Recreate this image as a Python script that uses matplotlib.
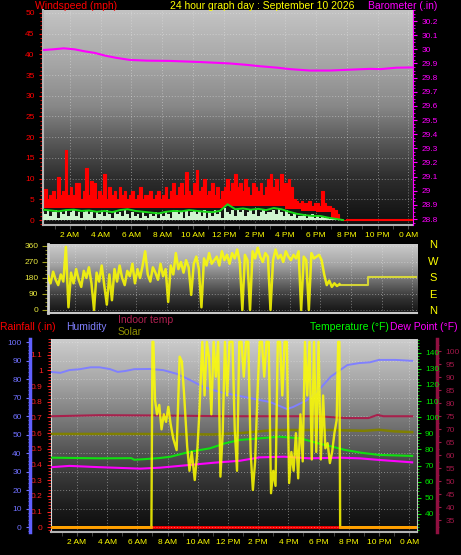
import numpy as np
import matplotlib
matplotlib.use('Agg')
from matplotlib import pyplot as plt
from matplotlib.colors import LinearSegmentedColormap
from matplotlib.ticker import MultipleLocator, FuncFormatter

plt.rcParams['font.family'] = ['Liberation Sans', 'DejaVu Sans']

# ---------------- data ----------------
title = '24 hour graph day : September 10 2026'
hour_ticks = [2, 4, 6, 8, 10, 12, 14, 16, 18, 20, 22, 24]
hour_labels = ['2 AM', '4 AM', '6 AM', '8 AM', '10 AM', '12 PM',
               '2 PM', '4 PM', '6 PM', '8 PM', '10 PM', '0 AM']

# wind gust (mph), 10 minute samples from 00:15
wind_gust = [
    6, 7.5, 5, 6, 7,
    5, 10.5, 6, 7, 17, 6,
    8, 6, 9, 9, 5, 7,
    12.5, 6, 9.5, 9, 5, 7,
    6, 11, 5, 8, 6, 7,
    5, 8, 6, 7, 5, 6,
    7, 5, 6, 8, 5, 6,
    6, 7, 5, 6, 7, 5,
    6, 8, 5, 7, 9, 6,
    8, 9, 6, 11.5, 7, 6,
    9, 12, 7, 8, 10, 6,
    7, 9, 6, 8, 5, 7,
    8, 10, 7, 9, 11, 8,
    9, 7, 10, 8, 6, 9,
    8, 7, 9, 6, 8, 10,
    11, 8, 10, 7, 11, 9,
    9, 10, 8, 5, 4.5, 4,
    4.5, 4, 4, 4.5, 3.5, 4,
    4, 3.5, 6.9, 4, 3.5, 3.5,
    3, 2.5, 1.5, 0.3, 0, 0,
]
# lowest gust reading in each hour (mph)
wind_floor = [3.0, 3.0, 3.0, 3.0, 3.0, 3.0, 2.8, 2.8, 3.0, 3.0,
              3.0, 3.0, 3.3, 3.3, 3.3, 3.3, 2.6, 2.2, 2.0, 0]
# wind speed (mph), same 10 minute samples
wind_speed = [
    2, 1.5, 2.5, 1, 2,
    2.5, 0.5, 2, 1.5, 2.5, 1,
    2, 2.5, 1, 2, 0.5, 2,
    2.5, 1.5, 2, 0.5, 2, 1.5,
    2, 1, 2.5, 1.5, 0.5, 2,
    1.5, 2, 1, 2.5, 1.5, 0.5,
    2, 1, 1.5, 0.5, 2, 1,
    0.5, 1.5, 1, 2, 0.5, 1.5,
    1, 2, 1.5, 0.5, 2, 2.5,
    1.5, 2, 0.5, 2.5, 1, 2,
    2.5, 1.5, 2, 1, 2.5, 0.5,
    2, 1, 2.5, 1.5, 2, 0.5,
    3, 2, 1.5, 2.5, 1, 2.5,
    2, 2.5, 1, 2, 2.5, 1.5,
    2.5, 1, 2, 2.5, 1.5, 2,
    2, 2.5, 1.5, 3, 2, 1,
    2.5, 1.5, 1, 1.5, 0.5, 1,
    1, 1.5, 0.5, 1, 1.5, 0.5,
    1, 0.5, 1, 0.5, 0.5, 0.3,
    0.3, 0.2, 0.1, 0, 0, 0,
]
# average wind (mph), half hourly from 00:15
wind_avg = [2.5, 2.3, 2.1, 2.4, 2.5, 2.2, 2.3, 2.0, 2.2, 1.9,
            2.4, 2.6, 2.2, 2.0, 1.8, 1.6, 2.0, 2.2, 2.1, 2.4,
            2.2, 2.0, 1.9, 2.2, 3.8, 2.6, 2.8, 2.5, 2.7, 2.4,
            2.9, 2.6, 2.0, 1.5, 1.2, 1.0, 1.0, 0.6, 0.3, 0.0]

baro_hours = [0.25, 0.9, 1.6, 2.3, 3.0, 3.6, 4.3, 5.0, 5.9, 7.0, 8.5, 10.5,
              12.4, 13.5, 14.4, 15.5, 16.3, 17.6, 18.9, 20.0, 21.5, 22.2, 23.2, 24.3]
baro_inhg = [29.995, 30.0, 30.007, 30.0, 29.985, 29.975, 29.955, 29.94, 29.925,
             29.92, 29.918, 29.91, 29.90, 29.89, 29.88, 29.87, 29.86, 29.85,
             29.85, 29.855, 29.862, 29.86, 29.87, 29.872]

# wind direction (deg), 10 minute samples from 00:15
wind_dir = [
    190, 150, 215, 170, 140, 200,
    160, 355, 15, 210, 150, 230,
    170, 130, 220, 180, 240, 150,
    0, 210, 160, 250, 140, 30,
    200, 55, 230, 160, 250, 180,
    140, 220, 190, 260, 150, 230,
    180, 250, 330, 200, 160, 240,
    210, 170, 260, 190, 230, 45,
    250, 200, 320, 230, 270, 210,
    280, 240, 85, 260, 300, 230,
    15, 290, 250, 320, 260, 280,
    300, 250, 330, 280, 310, 260,
    320, 290, 340, 270, 0, 310,
    280, 0, 330, 290, 350, 300,
    270, 320, 300, 0, 280, 340,
    290, 310, 270, 330, 300, 280,
    310, 290, 330, 0, 300, 280,
    0, 320, 290, 300, 310, 280,
    200, 140, 165, 130, 150, 135, 145,
]
dir_tail_hours = [19.3, 21.1, 21.1, 24.3]
dir_tail = [140, 140, 187, 187]

# bottom panel
rain_hours = [0.28, 24.5]
rainfall = [0.0, 0.0]

humidity = [(0.28, 84), (0.9, 83.5), (1.5, 85), (2.2, 85.5), (2.9, 86.5), (3.5, 86.5),
            (4.2, 85.5), (4.7, 84), (5.2, 84.5), (5.8, 85.5), (6.8, 85.6), (7.7, 85),
            (8.6, 83), (9.5, 79.6), (10.4, 75.8), (11.5, 73), (12.6, 71.3), (13.7, 69.5),
            (14.8, 67.7), (15.9, 64), (16.3, 65), (17.2, 68.6), (18.1, 75), (18.8, 81.4),
            (19.9, 87.7), (20.7, 88.8), (21.4, 89.2), (22.0, 90.5), (23.1, 90.5), (24.2, 90)]

temperature = [(0.28, 74.9), (3.5, 74.5), (5.6, 74.6), (5.8, 73.6), (6.5, 74.0), (7.5, 74.7),
               (8.2, 75.5), (9.5, 78.6), (10.8, 80.7), (11.8, 83.8), (12.8, 85.9),
               (14.1, 86.9), (15.4, 87.9), (16.8, 86.9), (18.1, 83.5), (18.8, 82.0),
               (19.75, 79.7), (20.8, 78.0), (22.0, 76.6), (24.2, 76.0)]

dew_point = [(0.28, 69.0), (1.5, 69.8), (3.5, 69.0), (6.2, 68.1), (7.5, 68.7), (9.5, 70.4),
             (11.1, 71.8), (12.8, 73.0), (14.1, 75.1), (15.7, 75.5), (17.4, 74.5),
             (19.4, 74.9), (20.7, 74.5), (22.0, 73.5), (24.2, 72.0)]

indoor_temp = [(0.28, 75.0), (3.5, 75.4), (7.0, 75.3), (12.0, 75.0), (18.0, 75.0),
               (19.8, 74.3), (21.3, 74.3), (21.9, 75.5), (22.3, 75.0), (24.2, 75.0)]

solar_level = [(0.28, 68.2), (6.0, 68.2), (11.0, 68.0), (13.0, 68.6), (15.0, 69.7),
               (19.0, 69.7), (21.0, 69.4), (22.0, 69.8), (23.0, 69.2), (24.2, 68.9)]

sun = [(0.28, 0), (6.93, 0), (7.0, 985), (7.06, 985), (7.17, 676), (7.3, 600), (7.45, 650),
       (7.6, 520), (7.75, 600), (7.9, 560), (8.05, 640), (8.2, 550), (8.38, 470), (8.6, 410),
       (8.8, 906), (8.95, 880), (9.1, 700), (9.3, 428), (9.45, 300), (9.6, 400), (9.8, 251),
       (9.95, 380), (10.1, 600), (10.3, 985), (10.45, 700), (10.6, 985), (10.75, 900),
       (10.9, 600), (11.05, 985), (11.2, 800), (11.35, 985), (11.5, 269), (11.65, 500),
       (11.8, 985), (11.95, 700), (12.1, 985), (12.3, 985), (12.45, 517), (12.6, 300),
       (12.75, 985), (12.9, 985), (13.05, 800), (13.2, 985), (13.35, 985), (13.5, 400),
       (13.65, 198), (13.8, 350), (13.95, 700), (14.1, 985), (14.25, 985), (14.4, 800),
       (14.55, 985), (14.7, 985), (14.85, 181), (15.0, 300), (15.15, 220), (15.3, 985),
       (15.45, 985), (15.6, 700), (15.75, 985), (15.9, 985), (16.05, 235), (16.2, 400),
       (16.35, 300), (16.5, 500), (16.65, 260), (16.8, 600), (16.95, 350), (17.1, 985),
       (17.25, 700), (17.4, 985), (17.55, 360), (17.7, 985), (17.85, 400), (18.0, 985),
       (18.15, 360), (18.3, 700), (18.45, 420), (18.6, 447), (18.75, 341), (18.9, 400),
       (19.05, 500), (19.2, 570), (19.3, 985), (19.38, 985), (19.43, 0), (24.5, 0)]

# ---------------- drawing ----------------
W, H = 461, 555
fig = plt.figure(figsize=(W / 100, H / 100), dpi=100, facecolor='black')


def box(x0, y0, x1, y1):
    return [x0 / W, 1 - y1 / H, (x1 - x0) / W, (y1 - y0) / H]


def backdrop(ax, stops):
    cmap = LinearSegmentedColormap.from_list('bg', stops)
    ax.imshow(np.linspace(0, 1, 256).reshape(-1, 1), cmap=cmap, aspect='auto',
              extent=(0, 1, 0, 1), transform=ax.transAxes, zorder=0)


def trim(v, p=None):
    return ('%.2f' % v).rstrip('0').rstrip('.')


def unzip(pairs):
    a = np.array(pairs, dtype=float)
    return a[:, 0], a[:, 1]


grid_kw = dict(color='#e8e8e8', linestyle=(0, (1, 2)), linewidth=0.7, alpha=0.45)
tick_font = 6
head_font = 7.5

# ---- windspeed / barometer ----
ax1 = fig.add_axes(box(43, 10, 413, 225))
backdrop(ax1, [(0, '#c4c4c4'), (0.25, '#a6a6a6'), (0.45, '#888888'),
               (0.6, '#5c5c5c'), (0.78, '#2e2e2e'), (1, '#0e0e0e')])
t10 = 0.25 + np.arange(len(wind_gust)) / 6
floor = np.array(wind_floor)[np.floor(t10).astype(int)]
ax1.fill_between(t10, floor, wind_gust, step='mid', color='#ff0000', lw=0, zorder=2)
ax1.step(t10, wind_gust, where='mid', color='#ff0000', lw=0.8, zorder=2)
ax1.fill_between(t10, 0, wind_speed, step='mid', color='#cff4cf', lw=0, zorder=3)
t30 = 0.25 + 0.5 * np.arange(len(wind_avg))
ax1.plot(t30, wind_avg, color='#18d818', lw=1.4, zorder=4)
ax1.hlines(0, t10[-1], 24.3, color='#ff0000', lw=1.5, zorder=4)
ax1.set_xlim(0.25, 24.3)
ax1.set_ylim(-1.2, 50.7)
ax1.set_xticks(hour_ticks)
ax1.set_xticklabels(hour_labels)
ax1.xaxis.set_minor_locator(MultipleLocator(1))
ax1.yaxis.set_major_locator(MultipleLocator(5))
ax1.yaxis.set_minor_locator(MultipleLocator(1))
ax1.tick_params(axis='x', which='both', colors='#505050', labelcolor='#ffff00',
                labelsize=tick_font, length=3, pad=2)
ax1.tick_params(axis='y', which='both', colors='#ff0000', labelsize=tick_font, pad=3)
ax1.tick_params(axis='y', which='major', length=3)
ax1.tick_params(axis='y', which='minor', length=2)
ax1.set_axisbelow(True)
ax1.grid(True, **grid_kw)
ax1.spines['left'].set_color('#b4b4b4')
ax1.spines['left'].set_linewidth(1.5)
ax1.spines['bottom'].set_color('#b4b4b4')
ax1.spines['bottom'].set_linewidth(1.5)
ax1.spines['top'].set_visible(False)
ax1.spines['right'].set_visible(False)

ax1b = ax1.twinx()
ax1b.plot(baro_hours, baro_inhg, color='#ff00ff', lw=1.5, zorder=5)
ax1b.set_ylim(28.758, 30.278)
ax1b.yaxis.set_major_locator(MultipleLocator(0.1))
ax1b.yaxis.set_minor_locator(MultipleLocator(0.025))
ax1b.yaxis.set_major_formatter(FuncFormatter(trim))
ax1b.tick_params(axis='y', which='both', colors='#ff00ff', labelsize=tick_font, pad=3)
ax1b.tick_params(axis='y', which='major', length=3)
ax1b.tick_params(axis='y', which='minor', length=1.5)
for s in ('left', 'top', 'bottom'):
    ax1b.spines[s].set_visible(False)
ax1b.spines['right'].set_color('#ff00ff')

fig.text(35 / W, 1 - 6 / H, 'Windspeed (mph)', color='#ff0000', fontsize=head_font, va='center')
fig.text(170 / W, 1 - 6 / H, title, color='#ffff00', fontsize=head_font, va='center')
fig.text(368 / W, 1 - 6 / H, 'Barometer (.in)', color='#ff00ff', fontsize=head_font, va='center')

# ---- wind direction ----
ax2 = fig.add_axes(box(48, 244, 417, 313))
backdrop(ax2, [(0, '#cccccc'), (0.3, '#a4a4a4'), (0.55, '#6a6a6a'),
               (0.8, '#303030'), (1, '#141414')])
t_dir = 0.25 + np.arange(len(wind_dir)) / 6
ax2.plot(t_dir, wind_dir, color='#ffff00', lw=1.8, alpha=0.85, zorder=3)
ax2.plot(dir_tail_hours, dir_tail, color='#e8e830', lw=1.5, alpha=0.85, zorder=3)
ax2.set_xlim(0.25, 24.3)
ax2.set_ylim(-17, 371)
ax2.set_xticks(hour_ticks)
ax2.tick_params(axis='x', length=0, labelbottom=False)
ax2.yaxis.set_major_locator(MultipleLocator(90))
ax2.yaxis.set_minor_locator(MultipleLocator(22.5))
ax2.tick_params(axis='y', which='both', colors='#a0a020', labelcolor='#e8e840',
                labelsize=tick_font, pad=3)
ax2.tick_params(axis='y', which='major', length=4)
ax2.tick_params(axis='y', which='minor', length=2)
ax2.set_axisbelow(True)
ax2.grid(True, **grid_kw)
ax2.spines['left'].set_color('#d0d0d0')
ax2.spines['left'].set_linewidth(2)
ax2.spines['bottom'].set_color('#c8c8c8')
ax2.spines['bottom'].set_linewidth(1.5)
ax2.spines['top'].set_visible(False)
ax2.spines['right'].set_visible(False)

for letter, y in zip(['N', 'W', 'S', 'E', 'N'], [245, 262, 278, 295, 311]):
    fig.text(433 / W, 1 - y / H, letter, color='#ffff00', fontsize=8, ha='center', va='center')

# ---- rainfall / humidity / temperatures ----
ax3 = fig.add_axes(box(51, 339, 416.7, 532))
backdrop(ax3, [(0, '#cccccc'), (0.2, '#aaaaaa'), (0.45, '#727272'),
               (0.7, '#3a3a3a'), (0.9, '#181818'), (1, '#0c0c0c')])
ax3.plot(rain_hours, rainfall, color='#ff0000', lw=2, zorder=3)
ax3.set_xlim(0.28, 24.5)
ax3.set_ylim(-0.03, 1.2)
ax3.set_xticks(hour_ticks)
ax3.set_xticklabels(hour_labels)
ax3.xaxis.set_minor_locator(MultipleLocator(1))
ax3.tick_params(axis='x', which='both', colors='#505050', labelcolor='#ffff00',
                labelsize=tick_font, length=3, pad=2)
ax3.set_yticks(np.arange(0, 1.15, 0.1))
ax3.yaxis.set_major_formatter(FuncFormatter(trim))
ax3.yaxis.set_minor_locator(MultipleLocator(0.02))
ax3.tick_params(axis='y', which='both', colors='#ff2020', labelsize=tick_font, pad=3)
ax3.tick_params(axis='y', which='major', length=3)
ax3.tick_params(axis='y', which='minor', length=2)
ax3.grid(True, axis='x', **grid_kw)
ax3.set_axisbelow(True)
ax3.spines['left'].set_color('#d8d8d8')
ax3.spines['bottom'].set_color('#b4b4b4')
ax3.spines['bottom'].set_linewidth(1.5)
ax3.spines['top'].set_visible(False)
ax3.spines['right'].set_visible(False)

# humidity, axis far left
axh = ax3.twinx()
hx, hy = unzip(humidity)
axh.plot(hx, hy, color='#8080ff', lw=1.4, zorder=3)
axh.set_ylim(-2.5, 101.8)
axh.yaxis.tick_left()
axh.spines['left'].set_position(('axes', (30 - 51) / 365.7))
axh.spines['left'].set_color('#6060ff')
axh.spines['left'].set_linewidth(2.5)
for s in ('right', 'top', 'bottom'):
    axh.spines[s].set_visible(False)
axh.yaxis.set_major_locator(MultipleLocator(10))
axh.yaxis.set_minor_locator(MultipleLocator(2))
axh.tick_params(axis='y', which='both', colors='#7070ff', labelsize=tick_font, pad=3)
axh.tick_params(axis='y', which='major', length=3)
axh.tick_params(axis='y', which='minor', length=1.5)
axh.set_axisbelow(True)
axh.grid(True, axis='y', **grid_kw)

# indoor temp / solar level, maroon axis far right
axm = ax3.twinx()
mx, my = unzip(indoor_temp)
axm.plot(mx, my, color='#a8204c', lw=1.5, zorder=3)
ox, oy = unzip(solar_level)
axm.plot(ox, oy, color='#808000', lw=1.8, zorder=3)
axm.set_ylim(30.5, 104.7)
axm.spines['right'].set_position(('axes', (437.5 - 51) / 365.7))
axm.spines['right'].set_color('#901040')
axm.spines['right'].set_linewidth(2.5)
for s in ('left', 'top', 'bottom'):
    axm.spines[s].set_visible(False)
axm.yaxis.set_major_locator(MultipleLocator(5))
axm.yaxis.set_minor_locator(MultipleLocator(2.5))
axm.tick_params(axis='y', which='both', colors='#a01848', labelsize=tick_font, pad=3)
axm.tick_params(axis='y', which='major', length=3)
axm.tick_params(axis='y', which='minor', length=1.5)

# temperature / dew point, green axis at the plot edge
axt = ax3.twinx()
tx, ty = unzip(temperature)
dx, dy = unzip(dew_point)
axt.plot(tx, ty, color='#10e010', lw=1.5, zorder=3)
axt.plot(dx, dy, color='#ff00ff', lw=1.5, zorder=3)
axt.set_ylim(28.8, 148.5)
axt.set_yticks(np.arange(40, 141, 10))
axt.yaxis.set_minor_locator(MultipleLocator(2))
axt.tick_params(axis='y', which='both', colors='#00e000', labelsize=tick_font, pad=3)
axt.tick_params(axis='y', which='major', length=3)
axt.tick_params(axis='y', which='minor', length=1.5)
axt.spines['right'].set_color('#c0c0c0')
for s in ('left', 'top', 'bottom'):
    axt.spines[s].set_visible(False)

# sun trace on its own hidden scale
axs = ax3.twinx()
sx, sy = unzip(sun)
axs.plot(sx, sy, color='#ffff00', lw=1.7, alpha=0.85, zorder=4)
axs.plot(sx, np.where(sy == 0, 0.0, np.nan), color='#ffa000', lw=2, zorder=4)
axs.set_ylim(-25, 1000)
axs.set_axis_off()
ax3.set_xlim(0.28, 24.5)

fig.text(0 / W, 1 - 327 / H, 'Rainfall (.in)', color='#ff0000', fontsize=head_font, va='center')
fig.text(66 / W, 1 - 327 / H, 'Humidity', color='#8080ff', fontsize=head_font, va='center')
fig.text(118 / W, 1 - 320 / H, 'Indoor temp', color='#b02050', fontsize=head_font, va='center')
fig.text(118 / W, 1 - 332 / H, 'Solar', color='#909000', fontsize=head_font, va='center')
fig.text(310 / W, 1 - 327 / H, 'Temperature (°F)', color='#00ff00', fontsize=head_font, va='center')
fig.text(390 / W, 1 - 327 / H, 'Dew Point (°F)', color='#ff00ff', fontsize=head_font, va='center')

fig.savefig('out.png', dpi=100, facecolor='black')
